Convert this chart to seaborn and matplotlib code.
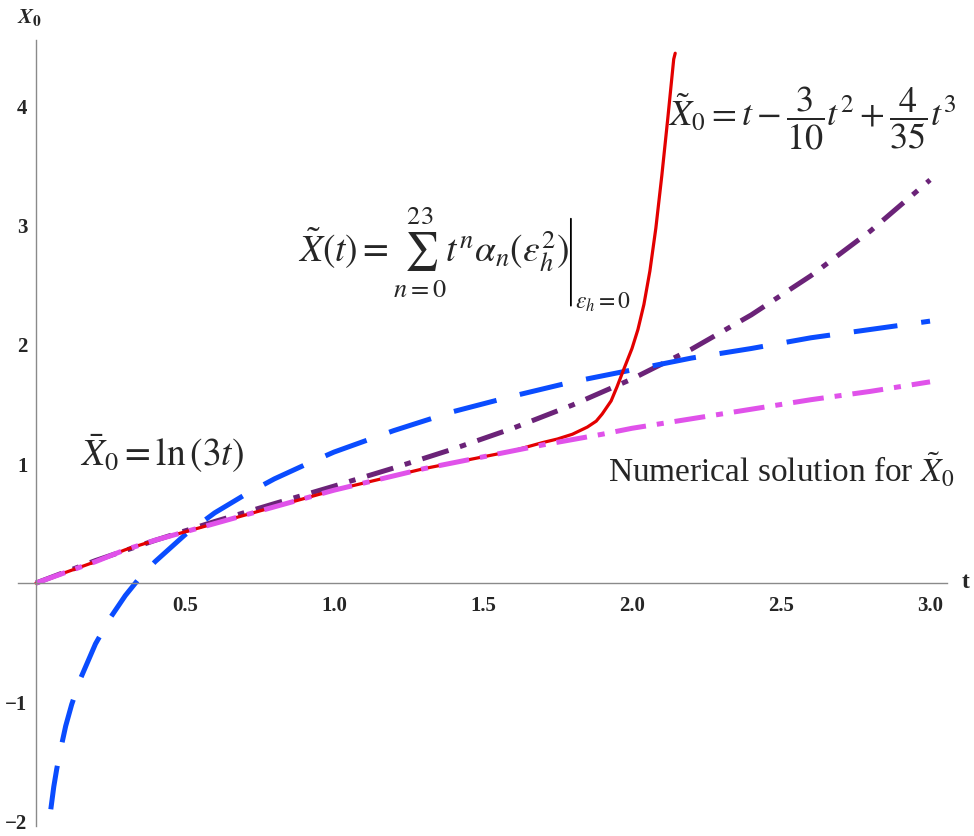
import numpy as np
import pandas as pd
import matplotlib
matplotlib.use("Agg")
import matplotlib.pyplot as plt
from matplotlib.ticker import MultipleLocator, FixedLocator
import seaborn as sns

# values
t_num = [0.0, 0.1, 0.2, 0.3, 0.4, 0.5, 0.6, 0.7, 0.8, 0.9, 1.0, 1.1, 1.2, 1.3, 1.4,
         1.5, 1.6, 1.7, 1.8, 1.9, 2.0, 2.2, 2.4, 2.6, 2.8, 3.0]
x_num = [0.0, 0.09, 0.18, 0.28, 0.36, 0.43, 0.50, 0.57, 0.64, 0.71, 0.78, 0.84, 0.90,
         0.96, 1.01, 1.06, 1.11, 1.16, 1.205, 1.25, 1.30, 1.38, 1.46, 1.54, 1.61, 1.69]

t_series = [0.0, 0.1, 0.2, 0.3, 0.4, 0.5, 0.6, 0.7, 0.8, 0.9, 1.0, 1.1, 1.2, 1.3, 1.4,
            1.5, 1.6, 1.7, 1.75, 1.8, 1.85, 1.88, 1.9, 1.93, 1.95, 1.97, 2.0, 2.02,
            2.04, 2.06, 2.08, 2.10, 2.12, 2.14, 2.145]
x_series = [0.0, 0.09, 0.18, 0.28, 0.36, 0.43, 0.50, 0.57, 0.64, 0.71, 0.78, 0.84, 0.90,
            0.96, 1.01, 1.06, 1.11, 1.18, 1.21, 1.25, 1.31, 1.36, 1.42, 1.53, 1.65, 1.78,
            1.97, 2.13, 2.34, 2.62, 2.98, 3.42, 3.90, 4.40, 4.45]

t_cubic = [0.0, 0.2, 0.4, 0.6, 0.8, 1.0, 1.2, 1.4, 1.6, 1.8, 2.0, 2.2, 2.4, 2.6, 2.8, 3.0]
x_cubic = [0.0, 0.189, 0.359, 0.517, 0.667, 0.814, 0.966, 1.126, 1.300, 1.495, 1.714,
           1.965, 2.252, 2.581, 2.957, 3.386]

t_log = [0.05, 0.06, 0.07, 0.08, 0.1, 0.12, 0.15, 0.2, 0.25, 0.3, 0.35, 0.4, 0.5, 0.6,
         0.7, 0.8, 0.9, 1.0, 1.2, 1.4, 1.6, 1.8, 2.0, 2.2, 2.4, 2.6, 2.8, 3.0]
x_log = [-1.90, -1.71, -1.56, -1.43, -1.20, -1.02, -0.80, -0.51, -0.29, -0.105, 0.05,
         0.18, 0.405, 0.59, 0.74, 0.875, 0.99, 1.10, 1.28, 1.44, 1.57, 1.69, 1.79, 1.89,
         1.97, 2.06, 2.13, 2.20]

x_ticks = [0.5, 1.0, 1.5, 2.0, 2.5, 3.0]
y_ticks = [-2, -1, 1, 2, 3, 4]

sns.set_style("white")
plt.rcParams["font.family"] = ["Liberation Serif", "DejaVu Serif"]
plt.rcParams["mathtext.fontset"] = "stix"
plt.rcParams["axes.unicode_minus"] = True

fig = plt.figure(figsize=(9.74, 8.36), dpi=100)
ax = fig.add_axes([0.0185, 0.012, 0.9538, 0.940])

df_cubic = pd.DataFrame({"t": t_cubic, "x": x_cubic})
df_log = pd.DataFrame({"t": t_log, "x": x_log})
df_series = pd.DataFrame({"t": t_series, "x": x_series})
df_num = pd.DataFrame({"t": t_num, "x": x_num})

sns.lineplot(data=df_cubic, x="t", y="x", ax=ax, color="#6b2378", lw=3.6,
             linestyle=(0, (5.5, 2.4, 1.3, 2.4)), estimator=None, sort=False,
             dash_capstyle="butt")
sns.lineplot(data=df_log, x="t", y="x", ax=ax, color="#0a4cff", lw=3.6,
             linestyle=(0, (8.8, 4.8)), estimator=None, sort=False,
             dash_capstyle="butt")
sns.lineplot(data=df_series, x="t", y="x", ax=ax, color="#e30000", lw=2.3,
             estimator=None, sort=False)
sns.lineplot(data=df_num, x="t", y="x", ax=ax, color="#e052ea", lw=3.6,
             linestyle=(0, (6.2, 2.2, 1.4, 2.2)), estimator=None, sort=False,
             dash_capstyle="butt")

ax.set_xlim(-0.06, 3.057)
ax.set_ylim(-2.04, 4.56)
ax.set_xlabel("")
ax.set_ylabel("")

for s in ["top", "right"]:
    ax.spines[s].set_visible(False)
for s in ["left", "bottom"]:
    ax.spines[s].set_position(("data", 0))
    ax.spines[s].set_color("#8a8a8a")
    ax.spines[s].set_linewidth(1.0)

ax.xaxis.set_major_locator(FixedLocator(x_ticks))
ax.xaxis.set_minor_locator(MultipleLocator(0.1))
ax.yaxis.set_major_locator(FixedLocator(y_ticks))
ax.yaxis.set_minor_locator(MultipleLocator(0.2))
ax.set_xticklabels([f"{v:.1f}" for v in x_ticks], fontweight="bold", fontsize=15)
ax.set_yticklabels(["\u2212" + str(-v) if v < 0 else str(v) for v in y_ticks],
                   fontweight="bold", fontsize=15)
ax.tick_params(which="major", direction="in", length=6, width=0.8, color="#8a8a8a")
ax.tick_params(which="minor", direction="in", length=3.5, width=0.7, color="#8a8a8a")
ax.tick_params(axis="x", which="major", pad=9)
ax.tick_params(axis="y", which="major", pad=6)

# axis labels
fig.text(30 / 974, 1 - 18 / 836, r"$\mathbfit{X}_{\mathbf{0}}$", fontsize=16,
         ha="center", va="center")
fig.text(966 / 974, 1 - 583 / 836, "t", fontsize=17, fontweight="bold",
         ha="center", va="center")

# curve annotations
ax.text(0.148, 1.09, r"$\bar{X}_0=\ln\left(3t\right)$", fontsize=27, va="center")
ax.text(0.88, 2.78,
        r"$\tilde{X}(t)=\sum_{n=0}^{23}t^n\alpha_n(\varepsilon_h^2)$",
        fontsize=27, va="center")
ax.annotate("", xy=(1.795, 2.33), xytext=(1.795, 3.06),
            arrowprops=dict(arrowstyle="-", lw=1.3, color="black",
                            shrinkA=0, shrinkB=0))
ax.text(1.81, 2.36, r"$\varepsilon_h=0$", fontsize=17, va="center")
ax.text(2.12, 3.9, r"$\tilde{X}_0=t-\dfrac{3}{10}t^2+\dfrac{4}{35}t^3$",
        fontsize=26, va="center")
ax.text(1.92, 0.95, r"Numerical solution for $\tilde{X}_0$", fontsize=24, va="center")

fig.savefig("out.png", dpi=100)
